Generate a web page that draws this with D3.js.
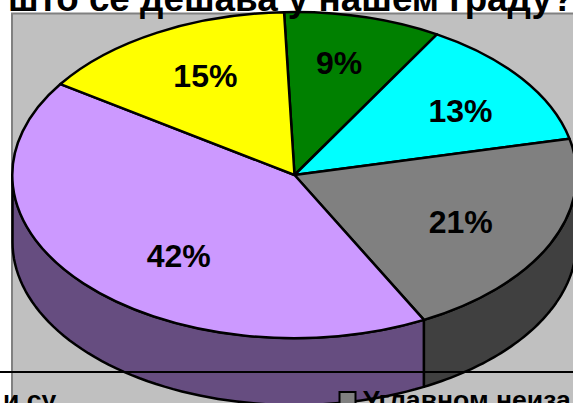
<!DOCTYPE html>
<html>
<head>
<meta charset="utf-8">
<script src="https://cdn.jsdelivr.net/npm/d3@7"></script>
<style>
html, body { margin: 0; padding: 0; background: #fff; }
svg { display: block; }
text { font-family: "Liberation Sans", Arial, sans-serif; font-weight: bold; fill: #000; }
</style>
</head>
<body>
<svg width="573" height="403"></svg>
<script>
var labels = ['9%', '13%', '21%', '42%', '15%'];
var values = [9, 13, 21, 42, 15];
var topColors = ['#008000', '#00ffff', '#808080', '#cc99ff', '#ffff00'];
var sideColors = ['#004000', '#008080', '#404040', '#664d80', '#808000'];
var title = 'што се дешава у нашем граду?';
var legendLeft = 'и су';
var legendRight = 'Углавном неиза';

var svg = d3.select('svg');
var cx = 294.5, cy = 175, rx = 282, ry = 163, depth = 67;

var pie = d3.pie().sort(null).value(d => d)
    .startAngle(-2.1 * Math.PI / 180)
    .endAngle(357.9 * Math.PI / 180);
var arcs = pie(values);

var arc = d3.arc().innerRadius(0).outerRadius(1);
var x = d3.scaleLinear().domain([0, 1]).range([cx, cx + rx]);
var y = d3.scaleLinear().domain([0, 1]).range([cy, cy + ry]);

// plot area
svg.append('rect')
    .attr('x', 12).attr('y', 13.5)
    .attr('width', 575).attr('height', 400)
    .attr('fill', '#c0c0c0')
    .attr('stroke', '#808080')
    .attr('stroke-width', 2);

// side wall, only the front half of the ellipse shows
function side(d) {
    var a0 = Math.max(d.startAngle, Math.PI / 2);
    var a1 = Math.min(d.endAngle, Math.PI * 3 / 2);
    if (a1 <= a0) return null;
    var pts = d3.range(0, 61).map(i => a0 + (a1 - a0) * i / 60);
    var top = pts.map(a => [x(Math.sin(a)), y(-Math.cos(a))]);
    var bottom = pts.slice().reverse().map(a => [x(Math.sin(a)), y(-Math.cos(a)) + depth]);
    return d3.line()(top.concat(bottom)) + 'Z';
}

svg.selectAll('path.side')
    .data(arcs)
    .enter().append('path')
    .attr('class', 'side')
    .attr('d', side)
    .attr('fill', (d, i) => sideColors[i])
    .attr('stroke', '#000')
    .attr('stroke-width', 2.5)
    .attr('stroke-linejoin', 'round');

svg.selectAll('path.top')
    .data(arcs)
    .enter().append('path')
    .attr('class', 'top')
    .attr('d', arc)
    .attr('transform', `translate(${cx},${cy}) scale(${rx},${ry})`)
    .attr('vector-effect', 'non-scaling-stroke')
    .attr('fill', (d, i) => topColors[i])
    .attr('stroke', '#000')
    .attr('stroke-width', 2.5)
    .attr('stroke-linejoin', 'round');

// percent labels, each pushed out along its slice by hand
var labelReachX = [0.65, 0.73, 0.65, 0.55, 0.65];
var labelReachY = [0.71, 0.67, 0.68, 0.745, 0.70];

svg.selectAll('text.pct')
    .data(arcs)
    .enter().append('text')
    .attr('class', 'pct')
    .attr('x', (d, i) => x(labelReachX[i] * Math.sin((d.startAngle + d.endAngle) / 2)))
    .attr('y', (d, i) => y(-labelReachY[i] * Math.cos((d.startAngle + d.endAngle) / 2)))
    .attr('dy', '0.35em')
    .attr('text-anchor', 'middle')
    .attr('font-size', 32)
    .text((d, i) => labels[i]);

// title, cut off by the top of the picture
svg.append('text')
    .attr('x', 8).attr('y', 10.5)
    .attr('font-size', 36.8)
    .text(title);

// legend, cut off at the bottom
svg.append('line')
    .attr('x1', 0).attr('x2', 573)
    .attr('y1', 372).attr('y2', 372)
    .attr('stroke', '#000')
    .attr('stroke-width', 2);

svg.append('rect')
    .attr('x', 339.5).attr('y', 392)
    .attr('width', 16).attr('height', 16)
    .attr('fill', '#808080')
    .attr('stroke', '#000')
    .attr('stroke-width', 2);

svg.append('text')
    .attr('x', 363).attr('y', 408.5)
    .attr('font-size', 26.6)
    .text(legendRight);

svg.append('text')
    .attr('x', 3).attr('y', 408.5)
    .attr('font-size', 26.6)
    .text(legendLeft);
</script>
</body>
</html>
